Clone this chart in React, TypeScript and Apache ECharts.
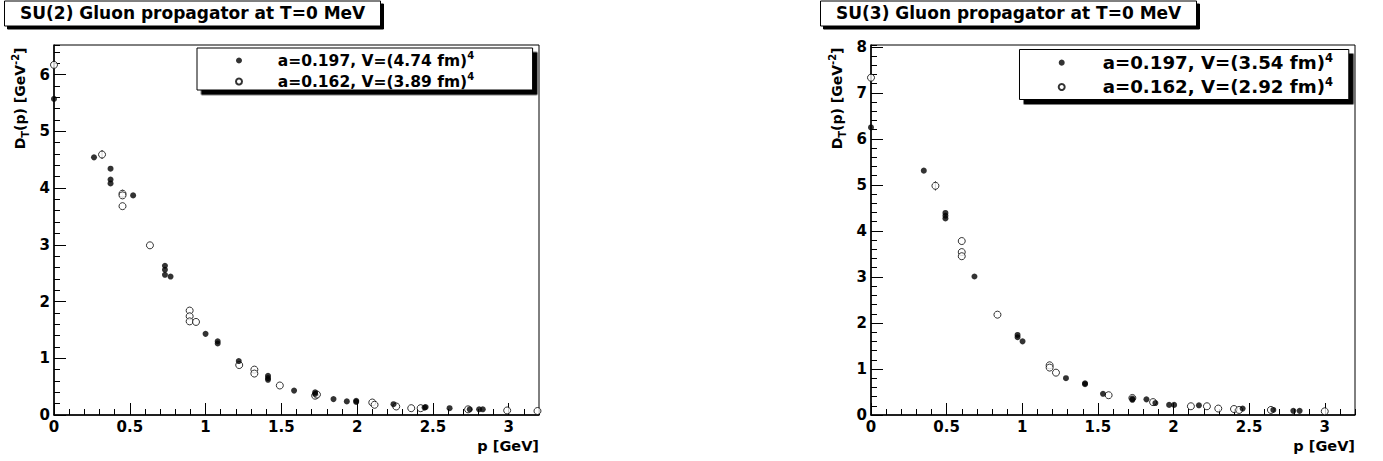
import React, { useEffect, useRef } from "react";
import * as echarts from "echarts";

// ---------- data ----------
const titles = ["SU(2) Gluon propagator at T=0 MeV", "SU(3) Gluon propagator at T=0 MeV"];
const legendSU2 = ["a=0.197, V=(4.74 fm)", "a=0.162, V=(3.89 fm)"];
const legendSU3 = ["a=0.197, V=(3.54 fm)", "a=0.162, V=(2.92 fm)"];
const xTitle = "p [GeV]";
const yTitleRich = "{m|D}{b|T}{m|(p) [GeV}{t|-2}{m|]}";
const yMaxSU2 = 6.52;
const yMaxSU3 = 8.04;
const xMax = 3.2;

// SU(2), a=0.197 (filled)
const su2A: number[][] = [
  [0, 5.57], [0.264, 4.54], [0.373, 4.34], [0.373, 4.15], [0.373, 4.08], [0.522, 3.87],
  [0.732, 2.63], [0.732, 2.56], [0.732, 2.47], [0.769, 2.44], [1.0, 1.43], [1.08, 1.3],
  [1.08, 1.26], [1.219, 0.95], [1.412, 0.69], [1.412, 0.65], [1.412, 0.62], [1.584, 0.43],
  [1.723, 0.4], [1.723, 0.37], [1.844, 0.28], [1.932, 0.24], [1.994, 0.25], [1.994, 0.23],
  [2.24, 0.19], [2.445, 0.13], [2.452, 0.14], [2.61, 0.12], [2.743, 0.1], [2.805, 0.1], [2.829, 0.1],
];
// SU(2), a=0.162 (open)
const su2B: number[][] = [
  [0, 6.17], [0.317, 4.59], [0.452, 3.9], [0.452, 3.87], [0.452, 3.68], [0.633, 2.99],
  [0.895, 1.84], [0.895, 1.74], [0.895, 1.65], [0.937, 1.64], [1.222, 0.88], [1.322, 0.8],
  [1.322, 0.73], [1.49, 0.52], [1.723, 0.34], [1.735, 0.36], [2.1, 0.22], [2.115, 0.18],
  [2.258, 0.15], [2.357, 0.12], [2.419, 0.12], [2.732, 0.1], [2.99, 0.08], [3.19, 0.07],
];
// error bars: [p, low, high]
const su2Err: number[][] = [[0.317, 4.51, 4.67], [0.452, 3.82, 3.97]];

// SU(3), a=0.197 (filled)
const su3A: number[][] = [
  [0, 6.25], [0.349, 5.31], [0.492, 4.39], [0.492, 4.33], [0.492, 4.27], [0.684, 3.01],
  [0.969, 1.74], [0.969, 1.69], [1.002, 1.6], [1.289, 0.8], [1.415, 0.69], [1.415, 0.67],
  [1.534, 0.46], [1.728, 0.36], [1.728, 0.33], [1.821, 0.34], [1.88, 0.26], [1.971, 0.22],
  [2.004, 0.22], [2.168, 0.21], [2.457, 0.14], [2.66, 0.11], [2.792, 0.09], [2.834, 0.09],
];
// SU(3), a=0.162 (open)
const su3B: number[][] = [
  [0, 7.33], [0.426, 4.98], [0.6, 3.78], [0.6, 3.54], [0.6, 3.45], [0.836, 2.18],
  [1.181, 1.08], [1.181, 1.03], [1.223, 0.92], [1.571, 0.43], [1.728, 0.37], [1.865, 0.28],
  [2.115, 0.19], [2.221, 0.19], [2.296, 0.14], [2.4, 0.13], [2.434, 0.11], [2.644, 0.11], [3.0, 0.08],
];
const su3Err: number[][] = [[0, 7.24, 7.42], [0.426, 4.88, 5.08]];

const DV = "'DejaVu Sans', Verdana, sans-serif";

function axesFor(gridIndex: number, yMax: number) {
  const labelStyle = { color: "#000", fontSize: 15, fontWeight: "bold", fontFamily: DV };
  const base = { color: "#000", fontWeight: "bold", fontFamily: DV };
  const x = [
    {
      gridIndex, type: "value", min: 0, max: xMax, interval: 0.5, position: "bottom",
      axisLine: { show: true, onZero: false, lineStyle: { color: "#000", width: 1.5 } },
      axisTick: { show: true, inside: true, length: 12, lineStyle: { color: "#000", width: 1 } },
      axisLabel: { ...labelStyle, show: true, margin: 4, showMaxLabel: false },
      splitLine: { show: false },
      name: xTitle, nameLocation: "end", nameGap: 0, nameMoveOverlap: false,
      nameTextStyle: { ...base, fontSize: 14.5, align: "right", verticalAlign: "top", lineHeight: 17, padding: [22, 0, 0, 0] },
    },
    {
      gridIndex, type: "value", min: 0, max: xMax, interval: 0.1, position: "bottom",
      axisLine: { show: false, onZero: false },
      axisTick: { show: true, inside: true, length: 6, lineStyle: { color: "#000", width: 1 } },
      axisLabel: { show: false },
      splitLine: { show: false },
    },
  ];
  const y = [
    {
      gridIndex, type: "value", min: 0, max: yMax, interval: 1, position: "left",
      axisLine: { show: true, onZero: false, lineStyle: { color: "#000", width: 1.5 } },
      axisTick: { show: true, inside: true, length: 12, lineStyle: { color: "#000", width: 1 } },
      axisLabel: { ...labelStyle, show: true, margin: 4, showMaxLabel: false },
      splitLine: { show: false },
      name: yTitleRich, nameLocation: "end", nameGap: -2.5, nameRotate: 90, nameMoveOverlap: false,
      nameTextStyle: {
        ...base, fontSize: 14, align: "right", verticalAlign: "middle", padding: [0, 0, 68, 0],
        rich: {
          m: { ...base, fontSize: 14, lineHeight: 20 },
          b: { ...base, fontSize: 10, lineHeight: 10, verticalAlign: "bottom" },
          t: { ...base, fontSize: 10, lineHeight: 10, verticalAlign: "top" },
        },
      },
    },
    {
      gridIndex, type: "value", min: 0, max: yMax, interval: 0.2, position: "left",
      axisLine: { show: false, onZero: false },
      axisTick: { show: true, inside: true, length: 6, lineStyle: { color: "#000", width: 1 } },
      axisLabel: { show: false },
      splitLine: { show: false },
    },
  ];
  return { x, y };
}

function seriesFor(id: string, xi: number, yi: number, names: string[], filled: number[][], open: number[][]) {
  return [
    {
      id, type: "scatter", xAxisIndex: xi, yAxisIndex: yi, data: [] as number[][], silent: true, z: 2,
      symbol: "rect", symbolSize: (v: number[]) => [1, v[2]], itemStyle: { color: "#000" },
    },
    {
      name: names[1], type: "scatter", xAxisIndex: xi, yAxisIndex: yi, data: open, silent: true, z: 3,
      symbol: "circle", symbolSize: 7,
      itemStyle: { color: "#fff", borderColor: "#000", borderWidth: 1 },
    },
    {
      name: names[0], type: "scatter", xAxisIndex: xi, yAxisIndex: yi, data: filled, silent: true, z: 4,
      symbol: "circle", symbolSize: 6, itemStyle: { color: "#000" },
    },
  ];
}

function titleOpt(left: number, text: string) {
  return {
    text, left, top: 0.5, padding: [3, 16, 3, 15.5],
    backgroundColor: "#fff", borderColor: "#000", borderWidth: 1,
    shadowColor: "#000", shadowBlur: 0, shadowOffsetX: 3, shadowOffsetY: 3,
    textStyle: { color: "#000", fontFamily: DV, fontWeight: "bold", fontSize: 17, lineHeight: 19.5 },
  };
}

function legendOpt(names: string[], left: number, top: number, size: number, supSize: number, lh: number, gap: number, itemWidth: number, padding: number[], shadow: number) {
  const base = { color: "#000", fontWeight: "bold", fontFamily: DV };
  return {
    data: names, left, top, orient: "vertical", selectedMode: false,
    itemWidth, itemHeight: 6, itemGap: gap, padding,
    backgroundColor: "#fff", borderColor: "#000", borderWidth: 1, borderRadius: 0,
    shadowColor: "#000", shadowBlur: 0, shadowOffsetX: shadow, shadowOffsetY: shadow,
    formatter: (n: string) => `{m|${n}}{s|4}`,
    textStyle: {
      ...base, fontSize: size,
      rich: {
        m: { ...base, fontSize: size, lineHeight: lh },
        s: { ...base, fontSize: supSize, lineHeight: 8, verticalAlign: "top" },
      },
    },
  };
}

export default function App() {
  const ref = useRef<HTMLDivElement>(null);
  useEffect(() => {
    document.body.style.margin = "0";
    if (!ref.current) return;
    const chart = echarts.init(ref.current, undefined, { renderer: "svg" });
    const a0 = axesFor(0, yMaxSU2);
    const a1 = axesFor(1, yMaxSU3);
    chart.setOption({
      animation: false,
      backgroundColor: "#fff",
      title: [titleOpt(4.5, titles[0]), titleOpt(820.5, titles[1])],
      legend: [
        legendOpt([legendSU2[0], legendSU2[1]], 197, 48, 15.5, 10, 20, 3, 67.4, [2.5, 58.5, 0.5, 38], 4.5),
        legendOpt([legendSU3[0], legendSU3[1]], 1019.5, 49.5, 18.2, 11.5, 22, 4.3, 72, [2.15, 15.8, 3.55, 38.2], 4.5),
      ],
      grid: [
        { left: 54, top: 45, width: 485, height: 370, show: true, borderColor: "#000", borderWidth: 1, backgroundColor: "transparent" },
        { left: 871, top: 45, width: 484, height: 370, show: true, borderColor: "#000", borderWidth: 1, backgroundColor: "transparent" },
      ],
      xAxis: [...a0.x, ...a1.x],
      yAxis: [...a0.y, ...a1.y],
      series: [
        ...seriesFor("err0", 0, 0, legendSU2, su2A, su2B),
        ...seriesFor("err1", 2, 2, legendSU3, su3A, su3B),
      ],
    } as any);
    // error bars: pixel heights from the library's own scales
    try {
      const toBars = (err: number[][], xi: number, yi: number) =>
        err.map((e) => {
          const lo = chart.convertToPixel({ xAxisIndex: xi, yAxisIndex: yi } as any, [e[0], e[1]]) as number[];
          const hi = chart.convertToPixel({ xAxisIndex: xi, yAxisIndex: yi } as any, [e[0], e[2]]) as number[];
          return [e[0], (e[1] + e[2]) / 2, Math.abs(lo[1] - hi[1])];
        });
      chart.setOption({
        series: [
          { id: "err0", data: toBars(su2Err, 0, 0) },
          { id: "err1", data: toBars(su3Err, 2, 2) },
        ],
      } as any);
    } catch (e) {
      // ignore
    }
    return () => chart.dispose();
  }, []);
  return <div ref={ref} style={{ width: 1383, height: 461 }} />;
}
